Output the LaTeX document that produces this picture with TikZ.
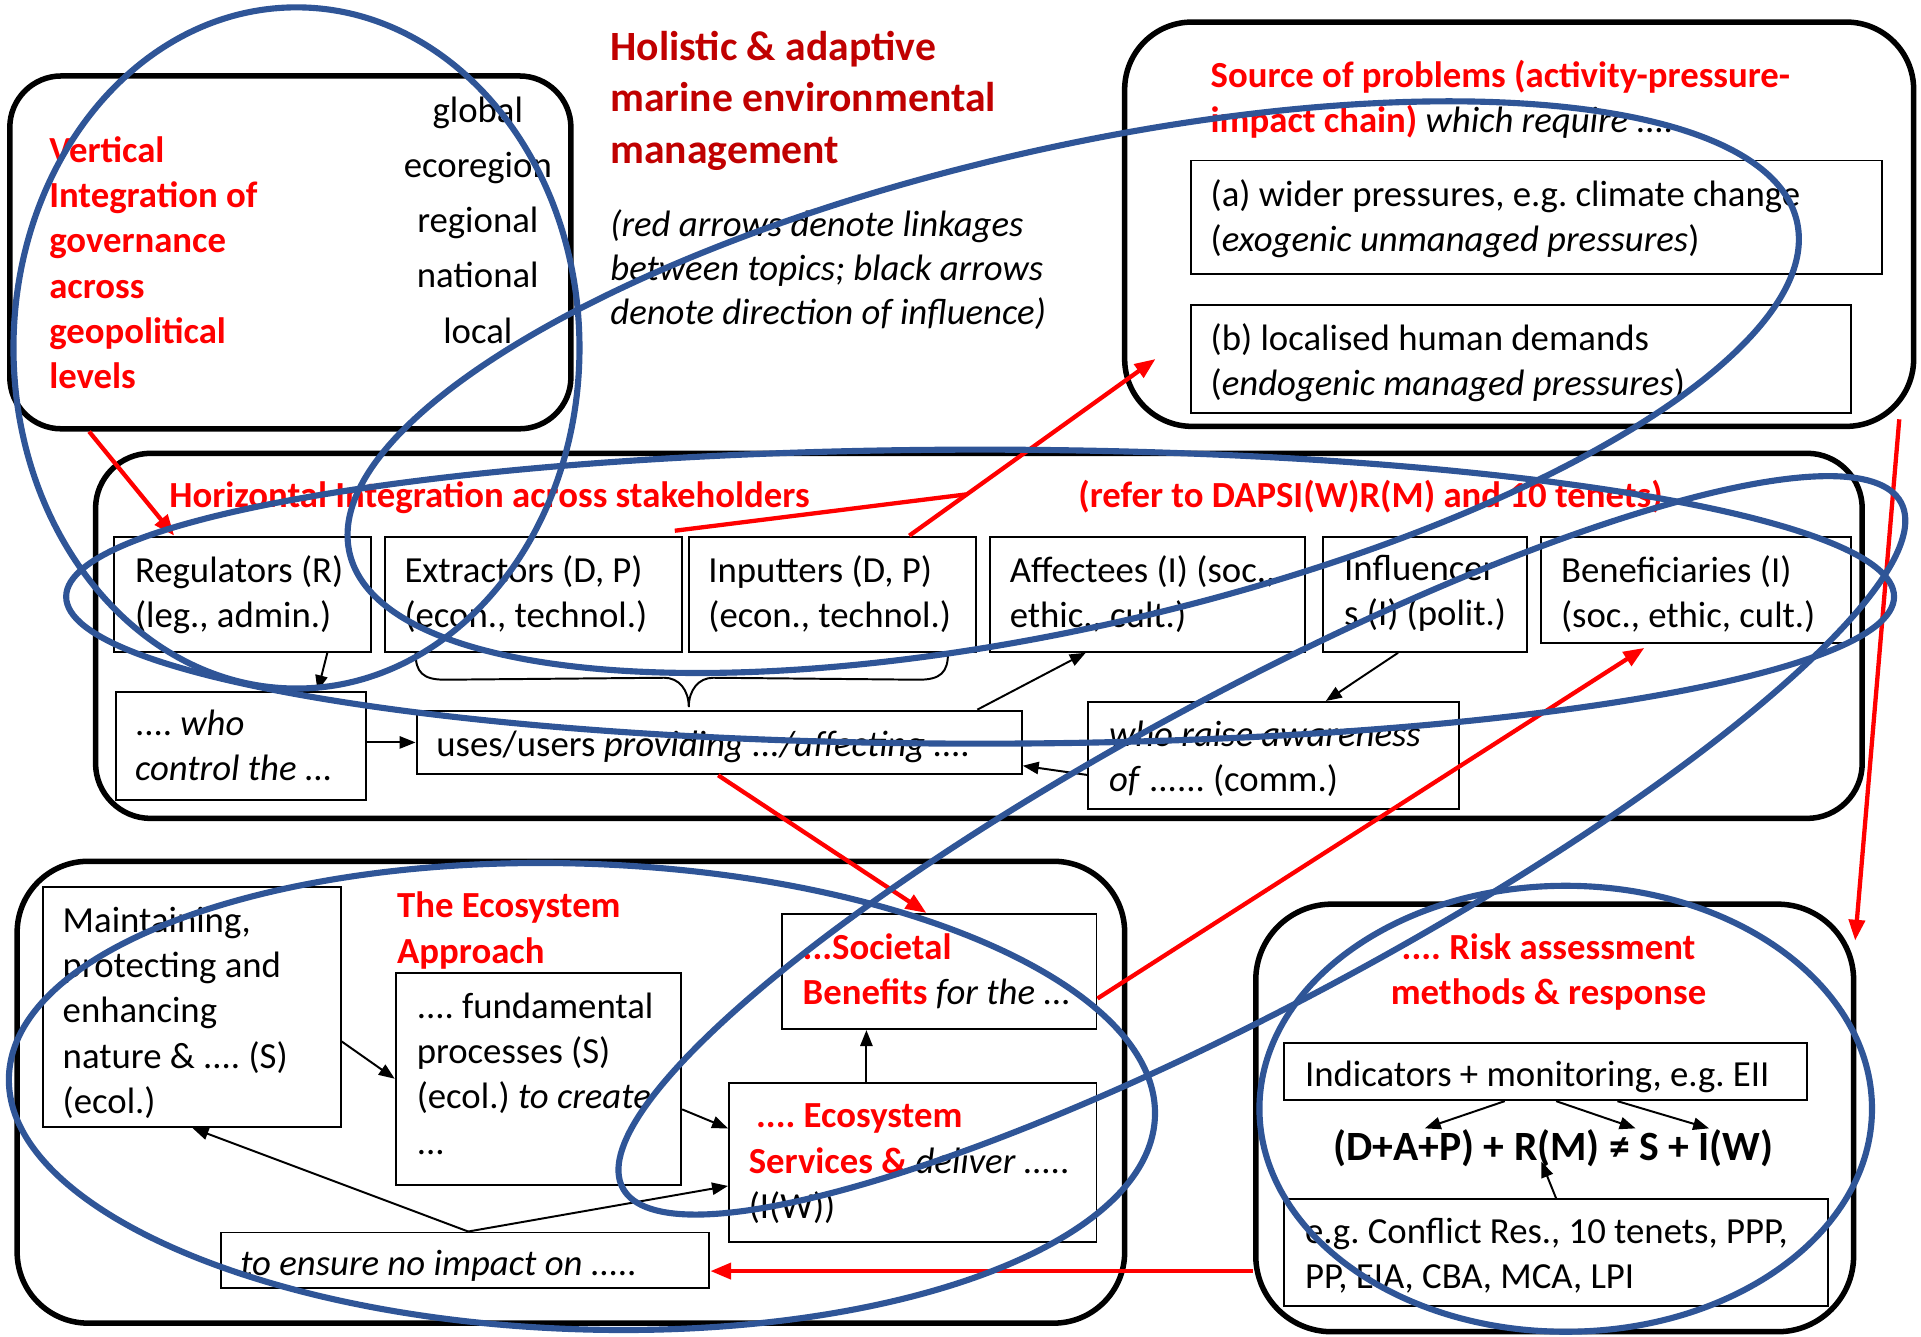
\documentclass[tikz,border=0pt]{standalone}
\usepackage{fontspec}
\setmainfont{Carlito}
\usetikzlibrary{arrows.meta,calc,fit}
\definecolor{linkred}{HTML}{FF0000}
\definecolor{titlered}{HTML}{C00000}
\definecolor{loopblue}{HTML}{2F5597}
\newcommand{\redbf}[1]{\textcolor{linkred}{\bfseries #1}}

\begin{document}
\frenchspacing
\begin{tikzpicture}[x=1pt, y=-1pt,
  group/.style={draw=black, line width=4.5pt, rounded corners=#1, inner sep=0pt},
  group/.default=48pt,
  box/.style={draw=black, line width=1.6pt, inner sep=0pt},
  txt/.style={anchor=north west, align=left, inner sep=0pt,
    font=\fontsize{30}{37}\selectfont, execute at begin node=\strut},
  hd/.style={txt, text=linkred, font=\fontsize{30}{37}\selectfont\bfseries},
  link/.style={draw=linkred, line width=3.5pt, -{Triangle[length=17pt, width=13pt]}},
  influence/.style={draw=black, line width=1.6pt, -{Triangle[length=13pt, width=10pt]}},
  encircle/.style={draw=loopblue, line width=5pt},
]
\useasboundingbox (0,0) rectangle (1568,1090.5);

% ---------- outer frames ----------
\node[group=42pt, fit={(8,62)(466,350)}] (vert) {};
\node[group=55pt, fit={(918,18)(1562,348)}] (src) {};
\node[group=45pt, fit={(78,370)(1520,668)}] (horiz) {};
\node[group=58pt, fit={(14,703)(918,1080)}] (eco) {};
\node[group=62pt, fit={(1025,738)(1513,1087)}] (risk) {};

% ---------- vertical integration ----------
\node[hd] (vert-t) at (40,111) {Vertical\\Integration of\\governance\\across\\geopolitical\\levels};
\node[txt, anchor=north, align=center, font=\fontsize{30}{45}\selectfont] (levels) at (390,79)
  {global\\ecoregion\\regional\\national\\local};

% ---------- title and legend ----------
\node[txt, text=titlered, font=\fontsize{34}{42}\selectfont\bfseries] (title) at (498,25)
  {Holistic \& adaptive\\marine environmental\\management};
\node[txt, font=\fontsize{30}{36}\selectfont\itshape] (note) at (498,171)
  {(red arrows denote linkages\\between topics; black arrows\\denote direction of influence)};

% ---------- source of problems ----------
\node[hd] (src-t) at (988,49)
  {Source of problems (activity-pressure-\\impact chain)\textcolor{black}{\mdseries\itshape{} which require ....}};
\node[box, fit={(972,131)(1536,224)}] (pa) {};
\node[txt] (pa-t) at (988,146) {(a) wider pressures, e.g. climate change\\(\textit{exogenic unmanaged pressures})};
\node[box, fit={(972,249)(1511,337)}] (pb) {};
\node[txt] (pb-t) at (988,264) {(b) localised human demands\\(\textit{endogenic managed pressures})};

% ---------- horizontal integration ----------
\node[hd] (horiz-t) at (138,388) {Horizontal Integration across stakeholders};
\node[hd] (dapsi) at (880,388) {(refer to DAPSI(W)R(M) and 10 tenets)};

\node[box, fit={(93,438)(303,532)}] (reg) {};
\node[txt] (reg-t) at (110,453) {Regulators (R)\\(leg., admin.)};
\node[box, fit={(314,438)(557,532)}] (ext) {};
\node[txt] (ext-t) at (330,453) {Extractors (D, P)\\(econ., technol.)};
\node[box, fit={(562,438)(797,532)}] (inp) {};
\node[txt] (inp-t) at (578,453) {Inputters (D, P)\\(econ., technol.)};
\node[box, fit={(808,438)(1065,532)}] (aff) {};
\node[txt] (aff-t) at (824,453) {Affectees (I) (soc.,\\ethic., cult.)};
\node[box, fit={(1080,438)(1246,532)}] (inf) {};
\node[txt] (inf-t) at (1097,453) {Influencer\\s (I) (polit.)};
\node[box, fit={(1258,438)(1511,525)}] (ben) {};
\node[txt] (ben-t) at (1274,453) {Beneficiaries (I)\\(soc., ethic, cult.)};

\node[box, fit={(95,565)(299,653)}] (ctl) {};
\node[txt] (ctl-t) at (110,579) {.... \textit{who}\\\textit{control the ...}};
\node[box, fit={(340,580)(834,632)}] (use) {};
\node[txt] (use-t) at (356,591) {uses/users \textit{providing .../affecting ....}};
\node[box, fit={(888,573)(1191,660)}] (awa) {};
\node[txt] (awa-t) at (905,588) {\textit{who raise awareness}\\\textit{of} ...... (comm.)};

% brace gathering extractors and inputters
\coordinate (bl) at ($(ext.south west)+(26,0)$);
\coordinate (br) at ($(inp.south east)+(-24,0)$);
\coordinate (bt) at ($(use.north west)+(223,-2)$);
\draw[line width=1.6pt] (bl) .. controls ($(bl)+(0,16)$) and ($(bl)+(6,22)$) .. ($(bl)+(24,22)$)
  -- ($(bt)+(-20,-24)$) .. controls ($(bt)+(-8,-24)$) and ($(bt)+(0,-14)$) .. (bt)
  .. controls ($(bt)+(0,-14)$) and ($(bt)+(8,-24)$) .. ($(bt)+(20,-24)$)
  -- ($(br)+(-24,22)$) .. controls ($(br)+(-6,22)$) and ($(br)+(0,16)$) .. (br);

% ---------- ecosystem approach ----------
\node[box, fit={(35,724)(278,920)}] (mnt) {};
\node[txt] (mnt-t) at (51,740) {Maintaining,\\protecting and\\enhancing\\nature \& .... (S)\\(ecol.)};
\node[hd] (eco-t) at (324,728) {The Ecosystem\\Approach};
\node[box, fit={(323,794)(556,967)}] (fun) {};
\node[txt] (fun-t) at (340,810) {.... fundamental\\processes (S)\\(ecol.) \textit{to create}\\...};
\node[box, fit={(638,746)(895,840)}] (soc) {};
\node[txt] (soc-t) at (655,762) {\redbf{...Societal}\\\redbf{Benefits} \textit{for the ...}};
\node[box, fit={(595,884)(895,1014)}] (ess) {};
\node[txt] (ess-t) at (611,901) {\hspace{6pt}\redbf{.... Ecosystem}\\\redbf{Services \&} \textit{deliver .....}\\(I(W))};
\node[box, fit={(180,1006)(579,1051)}] (ens) {};
\node[txt] (ens-t) at (196,1015) {\textit{to ensure no impact on .....}};

% ---------- risk assessment ----------
\node[hd, anchor=north, align=center] (risk-t) at (1264,762) {.... Risk assessment\\methods \& response};
\node[box, fit={(1048,851)(1475,898)}] (ind) {};
\node[txt] (ind-t) at (1065,861) {Indicators + monitoring, e.g. EII};
\node[inner sep=0pt, font=\fontsize{34}{40}\selectfont\bfseries] (eq) at (1268,937) {(D+A+P) + R(M) ≠ S + I(W)};
\node[box, fit={(1048,979)(1492,1066)}] (tools) {};
\node[txt] (tools-t) at (1065,994) {e.g. Conflict Res., 10 tenets, PPP,\\PP, EIA, CBA, MCA, LPI};

% ---------- direction of influence ----------
\draw[influence] ($(reg.south west)+(175,0)$) -- ($(ctl.north west)+(165,0)$);
\draw[influence] (ctl.east |- use.west) -- (use.west);
\draw[influence] ($(use.north east)+(-37,0)$) -- ($(aff.south west)+(79,0)$);
\draw[influence] ($(inf.south west)+(62,0)$) -- ($(awa.north west)+(195,0)$);
\draw[influence] ($(awa.west)+(0,16)$) -- ($(use.east)+(0,19)$);
\draw[influence] ($(mnt.east)+(0,28)$) -- (fun.west);
\draw[influence] ($(fun.east)+(0,25)$) -- ($(ess.west)+(0,-28)$);
\coordinate (ensTop) at ($(ens.north west)+(203,0)$);
\draw[influence] (ensTop) -- ($(mnt.south west)+(123,0)$);
\draw[influence] (ensTop) -- ($(ess.west)+(0,19)$);
\draw[influence] ($(ess.north west)+(113,0)$) -- ($(soc.south west)+(70,0)$);
\draw[influence] ($(ind.south west)+(181,0)$) -- ($(eq.center)+(-105,-16)$);
\draw[influence] ($(ind.south west)+(223,0)$) -- ($(eq.center)+(67,-16)$);
\draw[influence] ($(ind.south west)+(273,0)$) -- ($(eq.center)+(127,-16)$);
\draw[influence] ($(tools.north west)+(223,0)$) -- ($(eq.center)+(-10,11)$);

% ---------- linkages between topics ----------
\draw[link] ($(vert.south west)+(67,0)$) -- ($(reg.north west)+(50,0)$);
\coordinate (inpTop) at ($(inp.north west)+(181,0)$);
\coordinate (srcIn) at ($(pb.west)+(-28,0)$);
\draw[link] (inpTop) -- (srcIn);
\coordinate (join) at ($(inpTop)!0.234!(srcIn)$);
\draw[draw=linkred, line width=3.5pt] ($(ext.north east)+(-7,-4)$) -- (join);
\draw[link] ($(use.south west)+(247,0)$) -- ($(soc.north west)+(119,0)$);
\draw[link] ($(soc.east)+(0,22)$) -- ($(ben.south west)+(85,3)$);
\draw[link] ($(src.south east)+(-14,-8)$) -- ($(risk.north east)+(-1,32)$);
\coordinate (ensR) at ($(ens.east)+(0,9)$);
\draw[link] (risk.west |- ensR) -- (ensR);

% ---------- blue groupings ----------
\draw[encircle] (242,284) ellipse [x radius=231, y radius=278];
\draw[encircle, rotate around={12.9:(876,316)}] (876,316) ellipse [x radius=606, y radius=195];
\draw[encircle] (800,487) ellipse [x radius=746, y radius=120];
\draw[encircle, rotate around={28.2:(1030,690)}] (1030,690) ellipse [x radius=592, y radius=127];
\draw[encircle, rotate around={-2:(475,895)}] (475,895) ellipse [x radius=468, y radius=190];
\draw[encircle] (1278,905) ellipse [x radius=250, y radius=182];
\end{tikzpicture}
\end{document}
